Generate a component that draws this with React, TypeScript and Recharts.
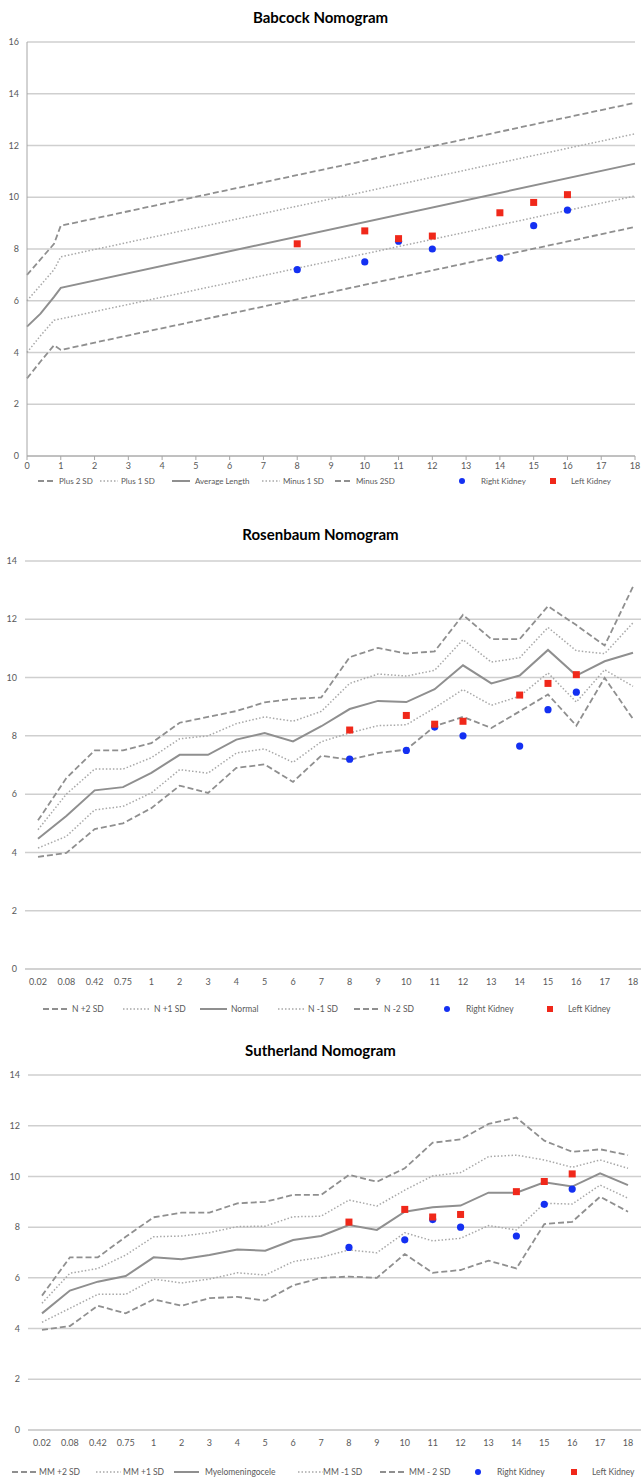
import React from "react";
import { LineChart, Line, XAxis, YAxis, CartesianGrid } from "recharts";

// kidney measurements (same for all three nomograms)
const kidneyAges = [8, 10, 11, 12, 14, 15, 16];
const rightKidney = [7.2, 7.5, 8.3, 8.0, 7.65, 8.9, 9.5];
const leftKidney = [8.2, 8.7, 8.4, 8.5, 9.4, 9.8, 10.1];

// Babcock (numeric age axis)
const babAges = [0, 0.4, 0.8, 1, 18];
const babPlus2 = [7.0, 7.6, 8.2, 8.9, 13.65];
const babPlus1 = [6.0, 6.6, 7.2, 7.7, 12.45];
const babAverage = [5.0, 5.5, 6.15, 6.5, 11.3];
const babMinus1 = [4.0, 4.65, 5.25, 5.3, 10.05];
const babMinus2 = [3.0, 3.65, 4.28, 4.1, 8.85];
const babXTicks = [0, 1, 2, 3, 4, 5, 6, 7, 8, 9, 10, 11, 12, 13, 14, 15, 16, 17, 18];
const babYTicks = [0, 2, 4, 6, 8, 10, 12, 14, 16];
const babLegend = ["Plus 2 SD", "Plus 1 SD", "Average Length", "Minus 1 SD", "Minus 2SD", "Right Kidney", "Left Kidney"];

// Rosenbaum + Sutherland share the category axis
const ageCategories = ["0.02", "0.08", "0.42", "0.75", "1", "2", "3", "4", "5", "6", "7", "8", "9", "10", "11", "12", "13", "14", "15", "16", "17", "18"];
const nomoYTicks = [0, 2, 4, 6, 8, 10, 12, 14];

const rosPlus2 = [5.1, 6.55, 7.5, 7.5, 7.75, 8.45, 8.65, 8.85, 9.15, 9.27, 9.32, 10.7, 11.02, 10.82, 10.9, 12.15, 11.32, 11.32, 12.45, 11.8, 11.1, 13.12];
const rosPlus1 = [4.78, 6.0, 6.86, 6.86, 7.25, 7.9, 8.0, 8.42, 8.65, 8.5, 8.84, 9.8, 10.12, 10.05, 10.25, 11.3, 10.53, 10.68, 11.72, 10.92, 10.82, 11.88];
const rosNormal = [4.47, 5.25, 6.13, 6.24, 6.73, 7.35, 7.35, 7.87, 8.1, 7.81, 8.33, 8.92, 9.2, 9.16, 9.6, 10.42, 9.8, 10.07, 10.95, 10.07, 10.56, 10.85];
const rosMinus1 = [4.15, 4.55, 5.46, 5.58, 6.04, 6.84, 6.72, 7.41, 7.55, 7.09, 7.8, 8.1, 8.35, 8.38, 8.96, 9.59, 9.05, 9.36, 10.16, 9.16, 10.27, 9.7];
const rosMinus2 = [3.85, 3.98, 4.8, 5.0, 5.52, 6.29, 6.04, 6.9, 7.02, 6.42, 7.32, 7.18, 7.41, 7.53, 8.33, 8.65, 8.27, 8.84, 9.42, 8.35, 9.99, 8.58];
const rosLegend = ["N +2 SD", "N +1 SD", "Normal", "N -1 SD", "N -2 SD", "Right Kidney", "Left Kidney"];

const suthPlus2 = [5.3, 6.81, 6.81, 7.62, 8.39, 8.57, 8.57, 8.94, 9.0, 9.27, 9.27, 10.06, 9.79, 10.32, 11.33, 11.46, 12.07, 12.32, 11.41, 10.97, 11.07, 10.84];
const suthPlus1 = [5.0, 6.18, 6.37, 6.9, 7.62, 7.65, 7.78, 8.02, 8.04, 8.41, 8.43, 9.07, 8.83, 9.46, 10.02, 10.15, 10.78, 10.84, 10.65, 10.36, 10.65, 10.32];
const suthMM = [4.6, 5.5, 5.85, 6.07, 6.81, 6.73, 6.9, 7.12, 7.07, 7.49, 7.65, 8.08, 7.89, 8.61, 8.78, 8.85, 9.36, 9.36, 9.77, 9.6, 10.12, 9.66];
const suthMinus1 = [4.25, 4.8, 5.35, 5.35, 5.95, 5.8, 5.95, 6.2, 6.11, 6.64, 6.81, 7.1, 6.99, 7.78, 7.46, 7.56, 8.06, 7.89, 8.94, 8.91, 9.66, 9.14];
const suthMinus2 = [3.95, 4.1, 4.9, 4.6, 5.15, 4.9, 5.2, 5.25, 5.1, 5.7, 6.0, 6.05, 6.0, 6.94, 6.2, 6.31, 6.68, 6.37, 8.12, 8.21, 9.2, 8.61];
const suthLegend = ["MM +2 SD", "MM +1 SD", "Myelomeningocele", "MM -1 SD", "MM - 2 SD", "Right Kidney", "Left Kidney"];

const FONT = "Lato, 'Liberation Sans', sans-serif";
const TICK = { fontSize: 9, fill: "#595959", fontFamily: FONT };
const GRID = "#cfcfcf";
const BLUE = "#1430f2";
const RED = "#f0281a";

const sd2 = { stroke: "#8f8f8f", strokeWidth: 1.8, strokeDasharray: "6 3" };
const sd1 = { stroke: "#a8a8a8", strokeWidth: 1.5, strokeDasharray: "1.5 2" };
const mid = { stroke: "#8f8f8f", strokeWidth: 2 };

const BlueDot = (p: any) =>
  p.cy == null || p.cx == null ? (
    <g key={`b-${p.index}`} />
  ) : (
    <circle key={`b-${p.index}`} cx={p.cx} cy={p.cy} r={3.6} fill={BLUE} />
  );

const RedSquare = (p: any) =>
  p.cy == null || p.cx == null ? (
    <g key={`r-${p.index}`} />
  ) : (
    <rect key={`r-${p.index}`} x={p.cx - 3.5} y={p.cy - 3.5} width={7} height={7} fill={RED} />
  );

const toPoints = (ages: number[], vals: number[]) => ages.map((age, i) => ({ age, v: vals[i] }));

function buildRows(p2: number[], p1: number[], m: number[], m1: number[], m2: number[]) {
  return ageCategories.map((c, i) => {
    const k = kidneyAges.indexOf(Number(c));
    return {
      age: c,
      p2: p2[i],
      p1: p1[i],
      m: m[i],
      m1: m1[i],
      m2: m2[i],
      right: k >= 0 ? rightKidney[k] : null,
      left: k >= 0 ? leftKidney[k] : null,
    };
  });
}

type LegendPos = { lines: number[]; len: number; texts: number[]; dot: number; sq: number };

function ChartLegend({ labels, top, pos, size }: { labels: string[]; top: number; pos: LegendPos; size: number }) {
  const styles = [sd2, sd1, mid, sd1, sd2];
  return (
    <svg width={641} height={16} style={{ position: "absolute", left: 0, top: top - 8 }}>
      {styles.map((s, i) => (
        <g key={i}>
          <line x1={pos.lines[i]} x2={pos.lines[i] + pos.len} y1={8} y2={8} {...s} />
          <text x={pos.texts[i]} y={8} dominantBaseline="central" fontSize={size} fill="#595959" fontFamily={FONT}>
            {labels[i]}
          </text>
        </g>
      ))}
      <circle cx={pos.dot} cy={8} r={3} fill={BLUE} />
      <text x={pos.dot + 19} y={8} dominantBaseline="central" fontSize={size} fill="#595959" fontFamily={FONT}>
        {labels[5]}
      </text>
      <rect x={pos.sq - 3} y={5} width={6} height={6} fill={RED} />
      <text x={pos.sq + 18} y={8} dominantBaseline="central" fontSize={size} fill="#595959" fontFamily={FONT}>
        {labels[6]}
      </text>
    </svg>
  );
}

function Title({ text, top }: { text: string; top: number }) {
  return (
    <div
      style={{
        position: "absolute",
        left: 0,
        top,
        width: 641,
        textAlign: "center",
        fontFamily: FONT,
        fontWeight: 700,
        fontSize: 15,
        lineHeight: "18px",
        color: "#000",
      }}
    >
      {text}
    </div>
  );
}

function Babcock() {
  const norm = [babPlus2, babPlus1, babAverage, babMinus1, babMinus2];
  const styles = [sd2, sd1, mid, sd1, sd2];
  return (
    <div style={{ position: "absolute", left: 0, top: 0 }}>
      <LineChart width={641} height={486} margin={{ top: 42, right: 6, bottom: 0, left: 0 }}>
        <CartesianGrid vertical={false} stroke={GRID} strokeWidth={1.5} />
        <XAxis
          type="number"
          dataKey="age"
          domain={[0, 18]}
          ticks={babXTicks}
          interval={0}
          height={30}
          tick={TICK}
          tickSize={4}
          tickMargin={3}
          stroke="#a6a6a6"
        />
        <YAxis
          type="number"
          domain={[0, 16]}
          ticks={babYTicks}
          width={27}
          tick={TICK}
          tickLine={false}
          tickSize={0}
          tickMargin={8}
          stroke="#a6a6a6"
        />
        {norm.map((vals, i) => (
          <Line
            key={i}
            data={toPoints(babAges, vals)}
            dataKey="v"
            type="linear"
            dot={false}
            isAnimationActive={false}
            {...styles[i]}
          />
        ))}
        <Line data={toPoints(kidneyAges, rightKidney)} dataKey="v" stroke="none" dot={BlueDot} activeDot={false} isAnimationActive={false} />
        <Line data={toPoints(kidneyAges, leftKidney)} dataKey="v" stroke="none" dot={RedSquare} activeDot={false} isAnimationActive={false} />
      </LineChart>
    </div>
  );
}

function CategoryNomogram({
  rows,
  top,
  height,
  marginTop,
  yWidth,
  padding,
}: {
  rows: any[];
  top: number;
  height: number;
  marginTop: number;
  yWidth: number;
  padding: { left: number; right: number };
}) {
  const keys = ["p2", "p1", "m", "m1", "m2"];
  const styles = [sd2, sd1, mid, sd1, sd2];
  return (
    <div style={{ position: "absolute", left: 0, top }}>
      <LineChart width={641} height={height} data={rows} margin={{ top: marginTop, right: 0, bottom: 0, left: 0 }}>
        <CartesianGrid vertical={false} stroke={GRID} strokeWidth={1.5} />
        <XAxis
          dataKey="age"
          interval={0}
          height={30}
          tick={TICK}
          tickLine={false}
          tickSize={0}
          tickMargin={10}
          padding={padding}
          stroke={GRID}
          strokeWidth={1.5}
        />
        <YAxis
          type="number"
          domain={[0, 14]}
          ticks={nomoYTicks}
          width={yWidth}
          tick={TICK}
          axisLine={false}
          tickLine={false}
          tickSize={0}
          tickMargin={8}
        />
        {keys.map((k, i) => (
          <Line key={k} dataKey={k} type="linear" dot={false} isAnimationActive={false} {...styles[i]} />
        ))}
        <Line dataKey="right" stroke="none" dot={BlueDot} activeDot={false} isAnimationActive={false} />
        <Line dataKey="left" stroke="none" dot={RedSquare} activeDot={false} isAnimationActive={false} />
      </LineChart>
    </div>
  );
}

export default function App() {
  const rosRows = buildRows(rosPlus2, rosPlus1, rosNormal, rosMinus1, rosMinus2);
  const suthRows = buildRows(suthPlus2, suthPlus1, suthMM, suthMinus1, suthMinus2);
  return (
    <div style={{ position: "absolute", left: 0, top: 0, width: 641, height: 1480, overflow: "hidden", background: "#fff" }}>
      <Title text="Babcock Nomogram" top={8} />
      <Babcock />
      <ChartLegend
        labels={babLegend}
        top={481}
        size={8}
        pos={{ lines: [38, 100, 172, 262, 335], len: 18, texts: [59, 121, 195, 283, 356], dot: 462, sq: 553 }}
      />

      <Title text="Rosenbaum Nomogram" top={525} />
      <CategoryNomogram rows={rosRows} top={540} height={459} marginTop={21} yWidth={25} padding={{ left: 13, right: 8 }} />
      <ChartLegend
        labels={rosLegend}
        top={1009}
        size={8.5}
        pos={{ lines: [43, 123, 200, 278, 354], len: 27, texts: [72, 154, 231, 308, 384], dot: 447, sq: 550 }}
      />

      <Title text="Sutherland Nomogram" top={1041} />
      <CategoryNomogram rows={suthRows} top={1060} height={400} marginTop={15} yWidth={28} padding={{ left: 14, right: 13 }} />
      <ChartLegend
        labels={suthLegend}
        top={1472}
        size={8.5}
        pos={{ lines: [12, 96, 174, 298, 380], len: 25, texts: [39, 123, 205, 323, 409], dot: 478, sq: 574 }}
      />
    </div>
  );
}
